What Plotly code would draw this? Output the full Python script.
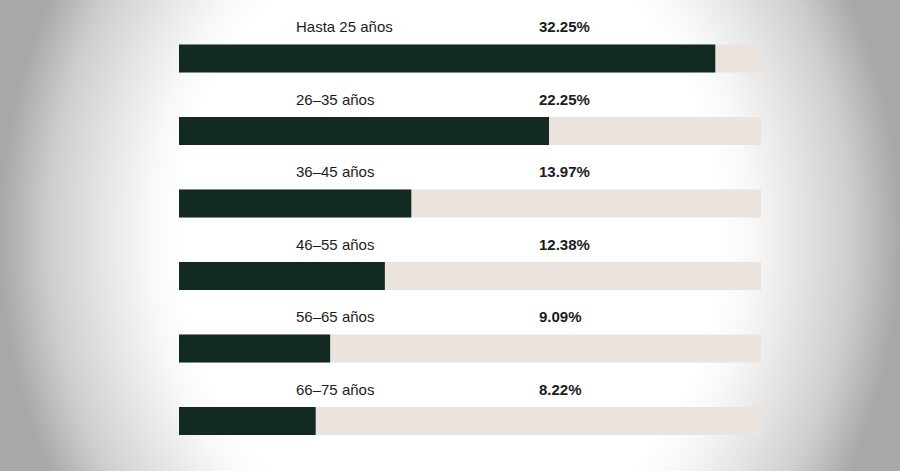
"""Distribución por edad - barras horizontales con pista."""

import base64

import plotly.graph_objects as go

# Data
categories = ["Hasta 25 años", "26–35 años", "36–45 años",
              "46–55 años", "56–65 años", "66–75 años"]
values = [32.25, 22.25, 13.97, 12.38, 9.09, 8.22]
track_max = 35.0

FILL = "#132a22"
TRACK = "#ebe3de"
TEXT = "#1c1c1c"
FONT = "Liberation Sans, Arial, sans-serif"

positions = list(range(len(categories)))

# Vignette background as an SVG radial gradient
svg = (
    '<svg xmlns="http://www.w3.org/2000/svg" width="900" height="471" '
    'viewBox="0 0 900 471" preserveAspectRatio="none">'
    '<defs><radialGradient id="g" cx="0.5" cy="0.5" r="0.5" '
    'gradientTransform="translate(0.5,0.5) scale(1,2.2) translate(-0.5,-0.5)">'
    '<stop offset="0" stop-color="#ffffff"/>'
    '<stop offset="0.6" stop-color="#ffffff"/>'
    '<stop offset="0.67" stop-color="#f8f8f8"/>'
    '<stop offset="0.78" stop-color="#e4e4e4"/>'
    '<stop offset="0.89" stop-color="#cecece"/>'
    '<stop offset="1" stop-color="#a8a8a8"/>'
    '</radialGradient></defs>'
    '<rect width="900" height="471" fill="url(#g)"/></svg>'
)
bg_src = "data:image/svg+xml;base64," + base64.b64encode(svg.encode()).decode()

fig = go.Figure()

# Track bars
fig.add_trace(go.Bar(
    x=[track_max] * len(categories),
    y=positions,
    orientation="h",
    marker=dict(color=TRACK, line=dict(width=0)),
    width=0.386,
    hoverinfo="skip",
))

# Value bars
fig.add_trace(go.Bar(
    x=values,
    y=positions,
    orientation="h",
    marker=dict(color=FILL, line=dict(width=0)),
    width=0.386,
    hovertemplate="%{customdata}: %{x:.2f}%<extra></extra>",
    customdata=categories,
))

# Labels above each bar
for pos, cat, val in zip(positions, categories, values):
    fig.add_annotation(
        text=cat, x=0.1976, xref="x domain", y=pos - 0.435, yref="y",
        xanchor="left", yanchor="middle", showarrow=False,
        font=dict(size=15, color=TEXT, family=FONT),
    )
    fig.add_annotation(
        text=f"<b>{val:.2f}%</b>", x=0.6156, xref="x domain", y=pos - 0.435, yref="y",
        xanchor="left", yanchor="middle", showarrow=False,
        font=dict(size=15, color=TEXT, family=FONT),
    )

fig.add_layout_image(
    source=bg_src, xref="paper", yref="paper", x=0, y=1,
    sizex=1, sizey=1, xanchor="left", yanchor="top",
    sizing="stretch", layer="below",
)

fig.update_layout(
    width=900,
    height=471,
    margin=dict(l=0, r=0, t=0, b=0),
    paper_bgcolor="white",
    plot_bgcolor="rgba(0,0,0,0)",
    barmode="overlay",
    showlegend=False,
    xaxis=dict(range=[0, track_max], domain=[179 / 900, 761 / 900],
               visible=False, fixedrange=True),
    yaxis=dict(range=[5.690, -0.807], visible=False, fixedrange=True),
)

fig.write_html(
    "out.html",
    config={"displayModeBar": False},
    post_script="document.body.style.margin = '0';",
)
